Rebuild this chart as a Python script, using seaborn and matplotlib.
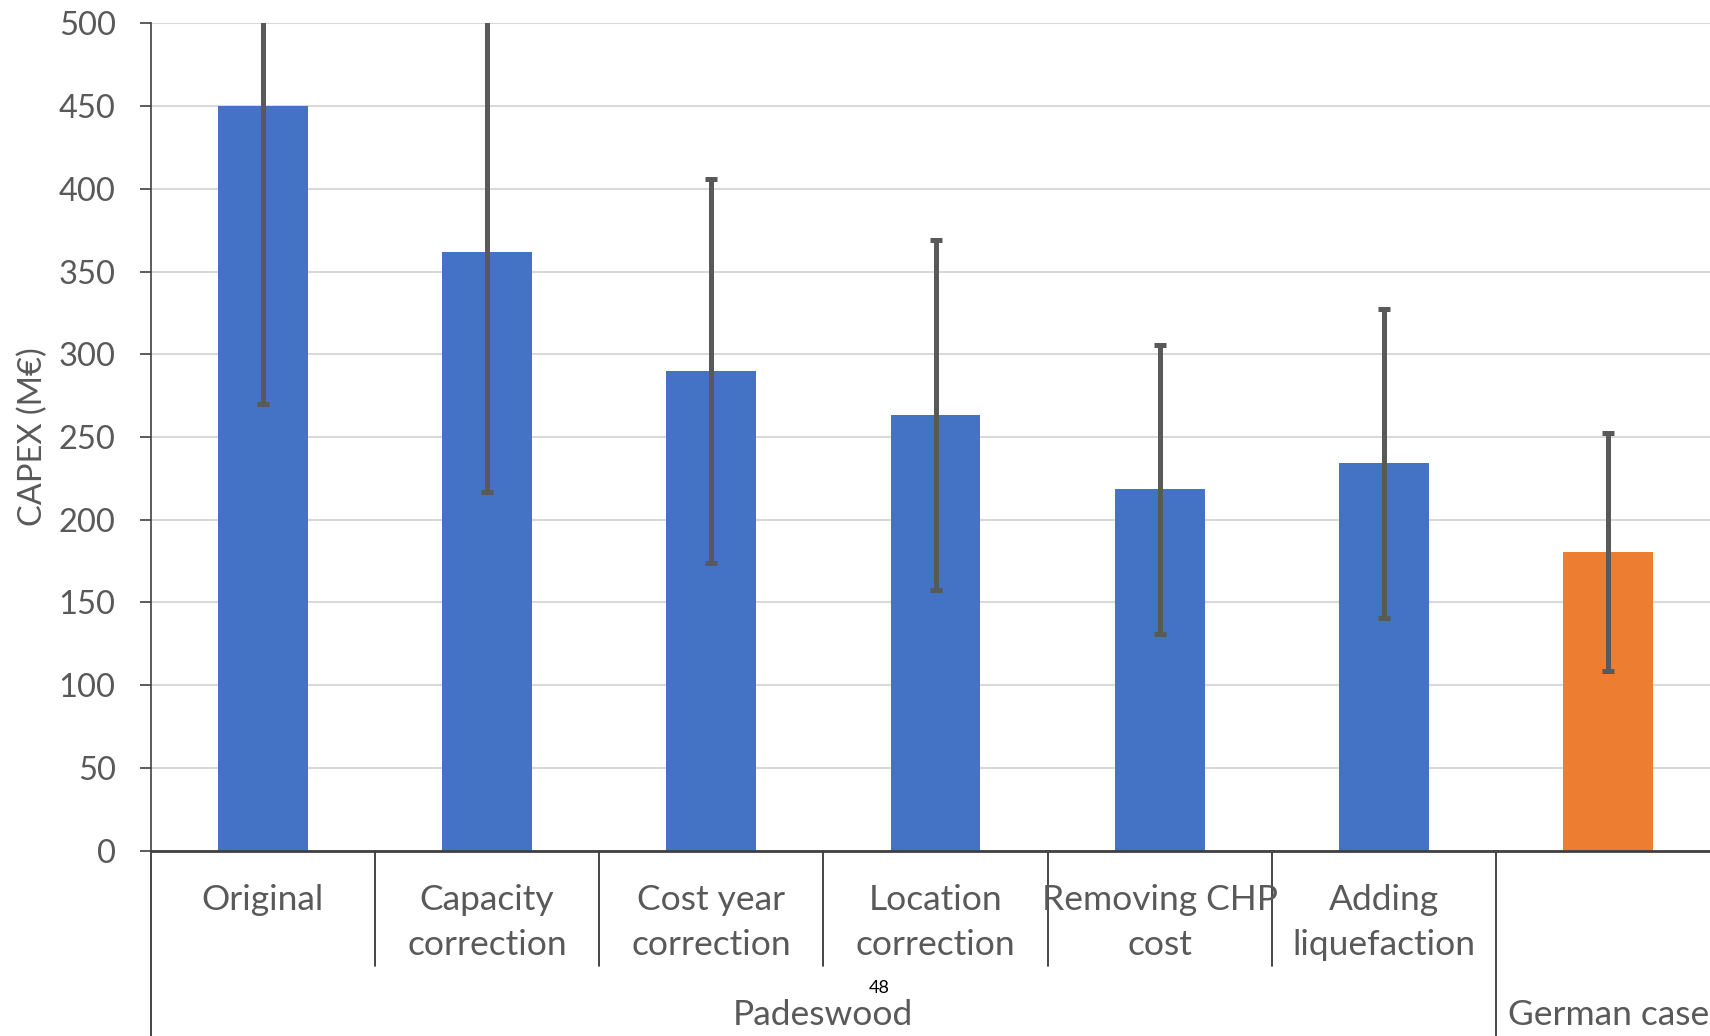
"""
CAPEX build-up chart: Padeswood corrections vs German case.
"""

import numpy as np
import matplotlib
matplotlib.use("Agg")
import matplotlib.pyplot as plt
import seaborn as sns
from matplotlib.lines import Line2D

# Data
categories = ["Original", "Capacity\ncorrection", "Cost year\ncorrection",
              "Location\ncorrection", "Removing CHP\ncost", "Adding\nliquefaction",
              "German case bar"]
capex = [450, 362, 290, 263.5, 218.3, 234, 180.3]
capex_err = [180, 145, 116, 105.8, 87.3, 93.5, 72]
bar_colors = ["#4472C4"] * 6 + ["#ED7D31"]
groups = ["Padeswood", "German case"]
group_sizes = [6, 1]
y_ticks = list(range(0, 501, 50))

TEXT = "#595959"

sns.set_style("white")
plt.rcParams['font.family'] = ['Lato', 'DejaVu Sans']

fig = plt.figure(figsize=(17.10, 10.36), dpi=100)
# axes runs slightly past the right edge, like the cropped original
ax = fig.add_axes([150.5 / 1710, (1036 - 850.7) / 1036, 1570 / 1710, 827.4 / 1036])

sns.barplot(x=categories, y=capex, hue=categories, palette=bar_colors,
            legend=False, width=0.4, saturation=1, linewidth=0, ax=ax)
ax.errorbar(np.arange(len(categories)), capex, yerr=capex_err, fmt='none',
            ecolor=TEXT, elinewidth=3.6, capsize=4, capthick=3.6, zorder=3)

ax.set_ylim(0, 500)
ax.set_xlim(-0.5, len(categories) - 0.5)
ax.set_yticks(y_ticks)
ax.tick_params(axis='y', labelsize=23.5, labelcolor=TEXT, length=8, width=1.2,
               color='#404040', pad=17, direction='out', left=True)
ax.tick_params(axis='x', bottom=False, labelbottom=False)
ax.yaxis.grid(True, color='#D9D9D9', linewidth=1.5)
ax.set_axisbelow(True)

for side in ['top', 'right']:
    ax.spines[side].set_visible(False)
ax.spines['left'].set_color('#404040')
ax.spines['left'].set_linewidth(1.2)
ax.spines['bottom'].set_color('#404040')
ax.spines['bottom'].set_linewidth(2)

ax.set_ylabel("CAPEX (M€)", fontsize=23.5, color=TEXT, va='center')
ax.yaxis.set_label_coords(-0.075, 0.5)

# multi-level category axis
trans = ax.get_xaxis_transform()
line1_y, line2_y = -0.0596, -0.114
for i, lab in enumerate(categories):
    if i >= 6:
        continue
    for j, part in enumerate(lab.split("\n")):
        ax.text(i, line1_y if j == 0 else line2_y, part, transform=trans,
                ha='center', va='center', fontsize=25.5, color=TEXT)

start = -0.5
for g, size in zip(groups, group_sizes):
    ax.add_line(Line2D([start, start], [0, -0.23], transform=trans,
                       color='#262626', lw=1.2, clip_on=False))
    for k in range(1, size):
        ax.add_line(Line2D([start + k, start + k], [0, -0.1394], transform=trans,
                           color='#262626', lw=1.2, clip_on=False))
    ax.text(start + size / 2, -0.1986, g, transform=trans, ha='center',
            va='center', fontsize=25.5, color=TEXT)
    start += size

# stray page number in the original figure
ax.text(2.747, -0.166, "48", transform=trans, ha='center', va='center',
        fontsize=13, color='#000000')

plt.savefig("out.png", dpi=100)
plt.close()
